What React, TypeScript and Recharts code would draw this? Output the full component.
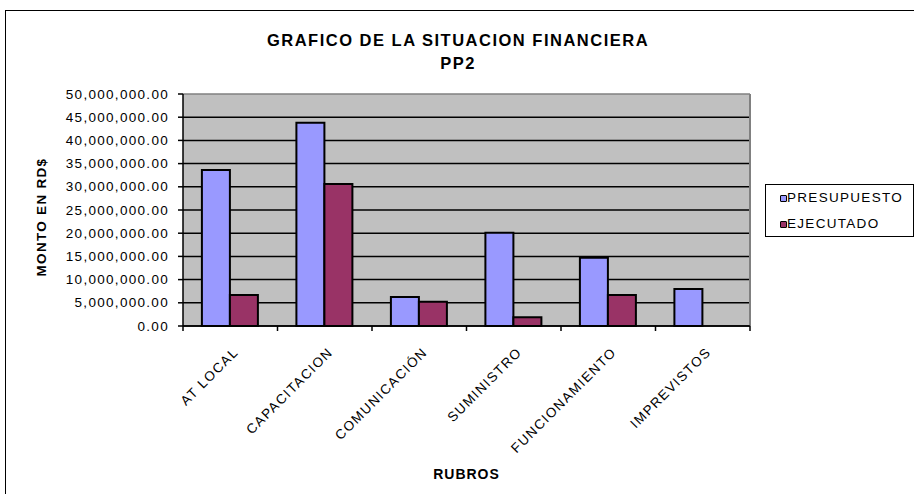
import React from 'react';
import { BarChart, Bar, XAxis, YAxis, CartesianGrid, Label } from 'recharts';

const categories = ['AT LOCAL', 'CAPACITACION', 'COMUNICACIÓN', 'SUMINISTRO', 'FUNCIONAMIENTO', 'IMPREVISTOS'];
const presupuesto = [33600000, 43800000, 6250000, 20100000, 14700000, 8000000];
const ejecutado = [6700000, 30600000, 5200000, 1900000, 6700000, 0];
const seriesNames = ['PRESUPUESTO', 'EJECUTADO'];
const seriesColors = ['#9999FF', '#993366'];
const yTicks = [0, 5000000, 10000000, 15000000, 20000000, 25000000, 30000000, 35000000, 40000000, 45000000, 50000000];
const titleLines = ['GRAFICO DE LA SITUACION FINANCIERA', 'PP2'];
const yTitle = 'MONTO EN RD$';
const xTitle = 'RUBROS';

const data = categories.map((c, i) => ({ name: c, presupuesto: presupuesto[i], ejecutado: ejecutado[i] }));

const FONT = '"Liberation Sans", Arial, sans-serif';

const fmt = (v: number) =>
  v.toLocaleString('en-US', { minimumFractionDigits: 2, maximumFractionDigits: 2 });

const YTick = (props: any) => {
  const { x, y, payload } = props;
  return (
    <text x={x} y={y} textAnchor="end" dominantBaseline="central" fontSize={13.5} fill="#000"
      style={{ letterSpacing: '1.3px', fontFamily: FONT }}>
      {fmt(payload.value)}
    </text>
  );
};

const XTick = (props: any) => {
  const { x, y, payload, index, visibleTicksCount } = props;
  const half = payload.offset || 0;
  const last = index === (visibleTicksCount ?? categories.length) - 1;
  const tx = x + 9;
  const ty = y + 27;
  return (
    <g>
      <line x1={x - half} y1={y} x2={x - half} y2={y + 5} stroke="#000" strokeWidth={1.5} />
      {last && <line x1={x + half} y1={y} x2={x + half} y2={y + 5} stroke="#000" strokeWidth={1.5} />}
      <text x={tx} y={ty} textAnchor="end" fontSize={13.5} fill="#000"
        transform={`rotate(-45, ${tx}, ${ty})`}
        style={{ letterSpacing: '1.4px', fontFamily: FONT }}>
        {payload.value}
      </text>
    </g>
  );
};

const hLine = (p: any) => {
  const top = Math.abs(p.y1 - p.y) < 1;
  return (
    <line key={p.key} x1={p.x1} y1={p.y1} x2={p.x2} y2={p.y2}
      stroke={top ? '#808080' : '#000'} strokeWidth={1.5} />
  );
};

const vLine = (p: any) => {
  if (p.index !== 0) return <g key={p.key} />;
  const xr = p.x + p.width;
  return <line key={p.key} x1={xr} y1={p.y} x2={xr} y2={p.y + p.height} stroke="#808080" strokeWidth={2} />;
};

export default function App() {
  return (
    <div style={{ position: 'absolute', left: 0, top: 0, width: 914, height: 494, overflow: 'hidden', background: '#fff', fontFamily: FONT }}>
      <div style={{
        position: 'absolute', left: 5, top: 10, width: 920, height: 500,
        borderTop: '1.5px solid #000', borderLeft: '1.5px solid #000',
      }} />
      <div style={{ position: 'absolute', left: 0, top: 31, width: 916, textAlign: 'center', fontWeight: 'bold', fontSize: 16.5, letterSpacing: '1.5px', lineHeight: '18px' }}>
        {titleLines[0]}
      </div>
      <div style={{ position: 'absolute', left: 0, top: 54, width: 916, textAlign: 'center', fontWeight: 'bold', fontSize: 16.5, letterSpacing: '1.5px', lineHeight: '18px' }}>
        {titleLines[1]}
      </div>
      <div style={{ position: 'absolute', left: 0, top: 0 }}>
        <BarChart width={914} height={494} data={data}
          margin={{ top: 94, right: 164, bottom: 0, left: 0 }}
          barCategoryGap="20%" barGap={0} style={{ fontFamily: FONT }}>
          <CartesianGrid fill="#C0C0C0" fillOpacity={1} horizontal={hLine} vertical={vLine} />
          <XAxis dataKey="name" interval={0} height={168} tickSize={0} tickMargin={0}
            axisLine={{ stroke: '#000', strokeWidth: 1.5 }} tickLine={false} tick={<XTick />}>
            <Label content={(p: any) => {
              const vb = p.viewBox;
              return (
                <text x={vb.x + vb.width / 2} y={vb.y + vb.height - 15} textAnchor="middle" fontSize={14}
                  fontWeight="bold" fill="#000" style={{ letterSpacing: '1px', fontFamily: FONT }}>{xTitle}</text>
              );
            }} />
          </XAxis>
          <YAxis width={183} domain={[0, 50000000]} ticks={yTicks} interval={0} tickSize={5} tickMargin={9}
            axisLine={{ stroke: '#000', strokeWidth: 1.5 }} tickLine={{ stroke: '#000', strokeWidth: 1.5 }} tick={<YTick />}>
            <Label content={(p: any) => {
              const vb = p.viewBox;
              const cx = vb.x + 41;
              const cy = 217;
              return (
                <text x={cx} y={cy} textAnchor="middle" dominantBaseline="central" fontSize={13.5}
                  fontWeight="bold" fill="#000" transform={`rotate(-90, ${cx}, ${cy})`}
                  style={{ letterSpacing: '1.3px', fontFamily: FONT }}>{yTitle}</text>
              );
            }} />
          </YAxis>
          <Bar dataKey="presupuesto" name={seriesNames[0]} fill={seriesColors[0]} stroke="#000" strokeWidth={2} isAnimationActive={false} />
          <Bar dataKey="ejecutado" name={seriesNames[1]} fill={seriesColors[1]} stroke="#000" strokeWidth={2} isAnimationActive={false} />
        </BarChart>
      </div>
      <div style={{
        position: 'absolute', left: 765, top: 184, width: 149, height: 53, boxSizing: 'border-box',
        border: '1px solid #000', background: '#fff', paddingTop: 0, paddingLeft: 14,
        fontSize: 13.5, letterSpacing: '1.3px', color: '#000',
      }}>
        {seriesNames.map((n, i) => (
          <div key={n} style={{ display: 'flex', alignItems: 'center', height: 26 }}>
            <span style={{
              display: 'inline-block', width: 5, height: 5, background: seriesColors[i],
              border: '1.5px solid #000', borderRadius: 1,
            }} />
            <span style={{ lineHeight: '26px' }}>{n}</span>
          </div>
        ))}
      </div>
    </div>
  );
}
